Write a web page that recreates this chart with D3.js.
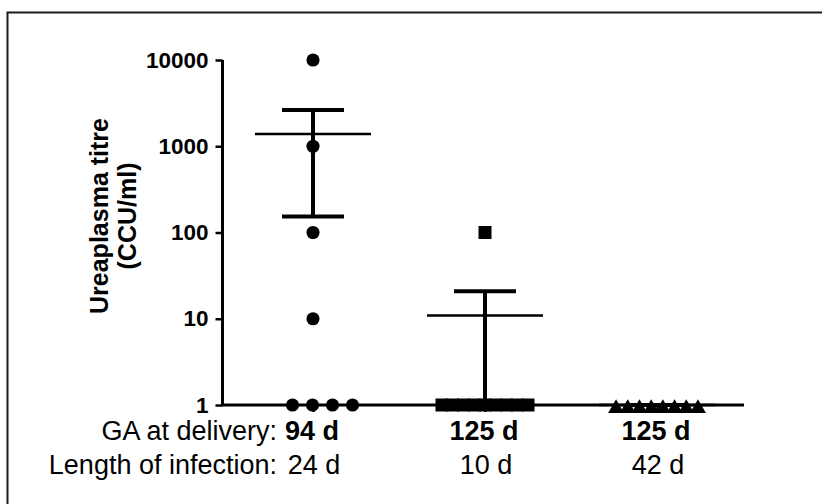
<!DOCTYPE html>
<html>
<head>
<meta charset="utf-8">
<script src="https://cdn.jsdelivr.net/npm/d3@7"></script>
<style>
  body { margin: 0; background: #fff; }
  svg text { font-family: "Liberation Sans", Arial, sans-serif; fill: #000; }
</style>
</head>
<body>
<div id="chart"></div>
<script>
// values
const groupIds = ["g1", "g2", "g3"];
const gaLabels = ["94 d", "125 d", "125 d"];
const infectionLabels = ["24 d", "10 d", "42 d"];
const titreG1 = [10000, 1000, 100, 10, 1, 1, 1, 1];
const titreG2 = [100, 1, 1, 1, 1, 1, 1, 1, 1, 1];
const titreG3 = [1, 1, 1, 1, 1, 1, 1, 1];
const yTicks = [1, 10, 100, 1000, 10000];

const width = 822, height = 504;
const titres = [titreG1, titreG2, titreG3];
const shapes = [d3.symbolCircle, d3.symbolSquare, d3.symbolTriangle];
const symSize = [135, 169, 110];
const symDy = [0, 0, 3.5];
// spread of duplicated values (scatter dot plot)
const jitterStep = [20, 10.75, 11.7];
const jitterShift = [9.5, 0, 0];

const svg = d3.select('#chart').append('svg')
  .attr('width', width)
  .attr('height', height);

// frame (only top / left edges fall inside the picture)
svg.append('rect')
  .attr('x', 7.5).attr('y', 12.5)
  .attr('width', 830).attr('height', 520)
  .attr('fill', 'none').attr('stroke', '#1a1a1a').attr('stroke-width', 2);

const x = d3.scalePoint().domain(groupIds).range([313, 657]);
const y = d3.scaleLog().domain([1, 10000]).range([405, 60]);

// y axis
const yAxis = svg.append('g')
  .attr('transform', 'translate(222.5,0)')
  .call(d3.axisLeft(y).tickValues(yTicks).tickFormat(d3.format('d')).tickSize(7).tickPadding(7));
yAxis.select('.domain').attr('stroke-width', 3).attr('d', `M0,${y(10000)}V${y(1)}`);
yAxis.selectAll('.tick line').attr('stroke-width', 2.5);
yAxis.selectAll('.tick text')
  .attr('font-size', 22.5).attr('font-weight', 'bold')
  .attr('font-family', '"Liberation Sans", Arial, sans-serif');

// x axis
const xAxis = svg.append('g')
  .attr('transform', `translate(0,${y(1)})`)
  .call(d3.axisBottom(x).tickSize(7).tickFormat(''));
xAxis.select('.domain').attr('stroke-width', 3).attr('d', 'M221,0H744');
xAxis.selectAll('.tick line').attr('stroke-width', 2.5);

// two row category labels
svg.append('text')
  .attr('x', 277).attr('y', 440)
  .attr('text-anchor', 'end').attr('font-size', 27)
  .text('GA at delivery:');
svg.append('text')
  .attr('x', 277).attr('y', 474)
  .attr('text-anchor', 'end').attr('font-size', 27)
  .text('Length of infection:');
svg.selectAll('.ga-label')
  .data(groupIds)
  .enter().append('text')
  .attr('class', 'ga-label')
  .attr('x', d => x(d) - 1).attr('y', 440)
  .attr('text-anchor', 'middle').attr('font-size', 27).attr('font-weight', 'bold')
  .text((d, i) => gaLabels[i]);
svg.selectAll('.inf-label')
  .data(groupIds)
  .enter().append('text')
  .attr('class', 'inf-label')
  .attr('x', d => x(d) + 1).attr('y', 474)
  .attr('text-anchor', 'middle').attr('font-size', 27)
  .text((d, i) => infectionLabels[i]);

// y title
const title = svg.append('text')
  .attr('transform', 'rotate(-90)')
  .attr('text-anchor', 'middle').attr('font-size', 25).attr('font-weight', 'bold');
title.append('tspan').attr('x', -216).attr('y', 108).text('Ureaplasma titre');
title.append('tspan').attr('x', -216).attr('y', 136).text('(CCU/ml)');

// points
const points = [];
titres.forEach((vals, gi) => {
  const counts = d3.rollup(vals, v => v.length, d => d);
  const seen = new Map();
  vals.forEach(v => {
    const n = counts.get(v);
    const k = seen.get(v) || 0;
    seen.set(v, k + 1);
    const off = n > 1 ? (k - (n - 1) / 2) * jitterStep[gi] + jitterShift[gi] : 0;
    points.push({ g: gi, value: v, off: off });
  });
});

svg.selectAll('.pt')
  .data(points)
  .enter().append('path')
  .attr('class', 'pt')
  .attr('d', d => d3.symbol(shapes[d.g], symSize[d.g])())
  .attr('transform', d => `translate(${x(groupIds[d.g]) + d.off},${y(d.value) + symDy[d.g]})`)
  .attr('fill', '#000');

// mean with SEM
const stats = titres.map((vals, gi) => {
  const m = d3.mean(vals);
  const sem = (d3.deviation(vals) || 0) / Math.sqrt(vals.length);
  return { g: groupIds[gi], mean: m, lo: Math.max(1, m - sem), hi: m + sem };
});

const bars = svg.selectAll('.err')
  .data(stats)
  .enter().append('g')
  .attr('class', 'err')
  .attr('stroke', '#000');
bars.append('line')
  .attr('x1', d => x(d.g)).attr('x2', d => x(d.g))
  .attr('y1', d => y(d.lo)).attr('y2', d => y(d.hi))
  .attr('stroke-width', 4);
bars.append('line')
  .attr('x1', d => x(d.g) - 31).attr('x2', d => x(d.g) + 31)
  .attr('y1', d => y(d.hi)).attr('y2', d => y(d.hi))
  .attr('stroke-width', 4);
bars.append('line')
  .attr('x1', d => x(d.g) - 31).attr('x2', d => x(d.g) + 31)
  .attr('y1', d => y(d.lo)).attr('y2', d => y(d.lo))
  .attr('stroke-width', 4);
bars.append('line')
  .attr('x1', d => x(d.g) - 58).attr('x2', d => x(d.g) + 58)
  .attr('y1', d => y(d.mean)).attr('y2', d => y(d.mean))
  .attr('stroke-width', 2.5);
</script>
</body>
</html>
